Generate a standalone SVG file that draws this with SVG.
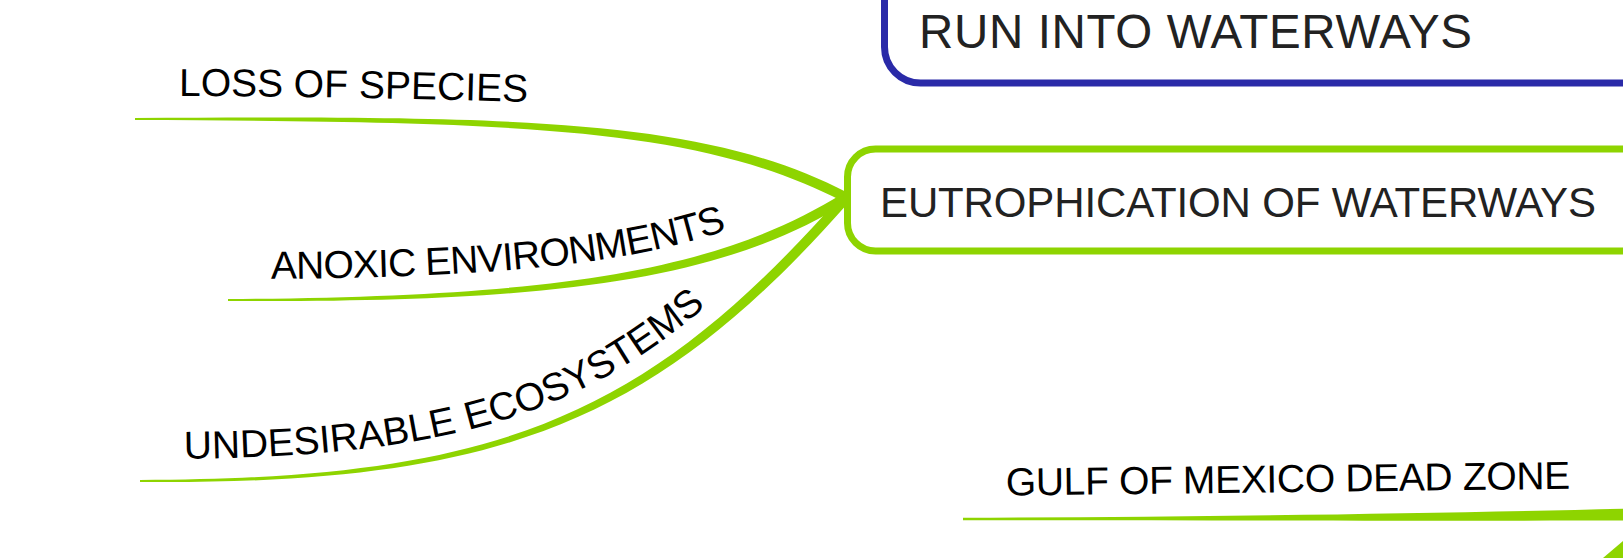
<svg xmlns="http://www.w3.org/2000/svg" xmlns:xlink="http://www.w3.org/1999/xlink" width="1623" height="558" viewBox="0 0 1623 558">
<style>
  .branch { fill: #8ed400; stroke: none; }
  .label { font-family: "Liberation Sans", Arial, sans-serif; font-size: 39px; fill: #000; }
  .nodetext { font-family: "Liberation Sans", Arial, sans-serif; fill: #222; }
</style>
<defs>
  <path id="p-loss" d="M179,96 C300,96.5 420,98.5 560,103"/>
  <path id="p-anoxic" d="M228,279 C560,279 709,257 832,181"/>
  <path id="p-undes" d="M140,459 C500,460 633.4,405.5 826.4,184.5"/>
  <path id="p-gulf" d="M1006,495.5 L1640,488"/>
</defs>
<rect width="1623" height="558" fill="#ffffff"/>
<g id="connectors">
  <path class="branch" d="M135,118 C520,116 702.3,117.56 847.3,192.56 L842.7,201.44 C697.7,126.44 520,122 135,120 Z"/>
  <path class="branch" d="M228,299 C560,297 717.375,270.745 842.375,193.745 L847.625,202.255 C722.625,279.255 560,303 228,301 Z"/>
  <path class="branch" d="M140,480 C500,479 646.235,416.71 841.235,195.71 L848.765,202.29 C653.765,423.29 500,485 140,482 Z"/>
  <path class="branch" d="M963,517.8 C1200,517 1450,513 1630,508.5 L1630,520.5 C1450,521 1200,520 963,520.2 Z"/>
  <path class="branch" d="M1603,558 L1623,541 L1623,558 Z"/>
</g>
<g id="node-run-into-waterways">
  <rect x="884.5" y="-80" width="900" height="163" rx="36" ry="36" fill="#ffffff" stroke="#2a2aa8" stroke-width="7"/>
  <text class="nodetext" x="919" y="48" font-size="47.5" textLength="553" lengthAdjust="spacing">RUN INTO WATERWAYS</text>
</g>
<g id="node-eutrophication">
  <rect x="847.5" y="149" width="900" height="102" rx="28" ry="28" fill="#ffffff" stroke="#8ed400" stroke-width="7"/>
  <text class="nodetext" x="880" y="216.5" font-size="42" textLength="716" lengthAdjust="spacing">EUTROPHICATION OF WATERWAYS</text>
</g>
<g id="node-loss-of-species">
  <text class="label"><textPath xlink:href="#p-loss" href="#p-loss">LOSS OF SPECIES</textPath></text>
</g>
<g id="node-anoxic-environments">
  <text class="label" letter-spacing="-0.8"><textPath xlink:href="#p-anoxic" href="#p-anoxic" startOffset="43">ANOXIC ENVIRONMENTS</textPath></text>
</g>
<g id="node-undesirable-ecosystems">
  <text class="label"><textPath xlink:href="#p-undes" href="#p-undes" startOffset="44">UNDESIRABLE ECOSYSTEMS</textPath></text>
</g>
<g id="node-gulf-dead-zone">
  <text class="label" letter-spacing="-0.35"><textPath xlink:href="#p-gulf" href="#p-gulf">GULF OF MEXICO DEAD ZONE</textPath></text>
</g>
</svg>
